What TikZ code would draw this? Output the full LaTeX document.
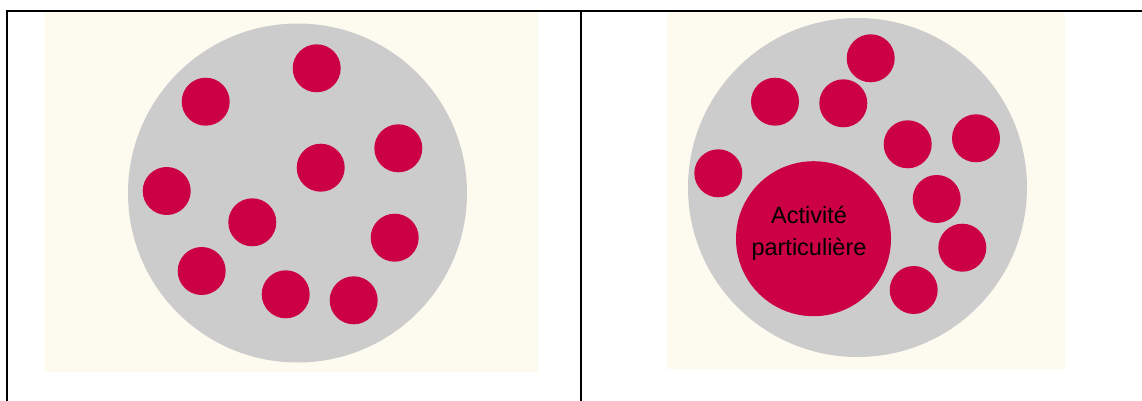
\documentclass[tikz,border=0pt]{standalone}
\usepackage{fontspec}
\setmainfont{Liberation Sans}
\definecolor{cream}{RGB}{253,251,239}
\definecolor{disc}{RGB}{204,204,204}
\definecolor{dot}{RGB}{204,0,68}
\tikzset{
  panel/.style={fill=cream, draw=none},
  bigdisc/.style={circle, fill=disc, draw=none, minimum size=339pt, inner sep=0pt},
  smalldot/.style={circle, fill=dot, draw=none, minimum size=48pt, inner sep=0pt},
  rule/.style={draw=black, line width=2pt},
}
\begin{document}
\begin{tikzpicture}[x=1pt,y=-1pt]
\useasboundingbox (0,0) rectangle (1142,401);
\fill[white] (0,0) rectangle (1142,401);
% panels
\fill[panel] (45,12) rectangle (538,372);
\fill[panel] (667,12) rectangle (1065,369);
% left
\node[bigdisc] (L) at (297.5,193) {};
\node[smalldot] (l1) at (316.7,68.3) {};
\node[smalldot] (l2) at (205.7,101.7) {};
\node[smalldot] (l3) at (398.3,148.3) {};
\node[smalldot] (l4) at (320.7,167.7) {};
\node[smalldot] (l5) at (166.7,191) {};
\node[smalldot] (l6) at (252.3,222.3) {};
\node[smalldot] (l7) at (394.7,237.7) {};
\node[smalldot] (l8) at (201.7,271) {};
\node[smalldot] (l9) at (285.7,294.3) {};
\node[smalldot] (l10) at (353.7,300.3) {};
% right
\node[bigdisc] (R) at (857.5,187.5) {};
\node[smalldot] (r1) at (870.7,58.3) {};
\node[smalldot] (r2) at (775,101.7) {};
\node[smalldot] (r3) at (843.3,103.3) {};
\node[smalldot] (r4) at (907.7,144.3) {};
\node[smalldot] (r5) at (976,138.3) {};
\node[smalldot] (r6) at (718.3,173.3) {};
\node[smalldot] (r7) at (936.7,199) {};
\node[smalldot] (r8) at (962.3,247.7) {};
\node[smalldot] (r9) at (913.7,290) {};
\node[circle, fill=dot, minimum size=155pt, inner sep=0pt] (big) at (813.5,238.7) {};
\node[align=center, text=black, font=\fontsize{23.5}{32}\selectfont, inner sep=0pt] (lbl) at (809,233) {Activité\\particulière};
% table rules
\coordinate (tl) at (7,11);
\coordinate (tr) at (1142,11);
\coordinate (bl) at (7,401);
\coordinate (tm) at (581,11);
\coordinate (bm) at (581,401);
\draw[rule] (6,11) -- (tr);
\draw[rule] (tl) -- (bl);
\draw[rule] (tm) -- (bm);
\end{tikzpicture}
\end{document}
